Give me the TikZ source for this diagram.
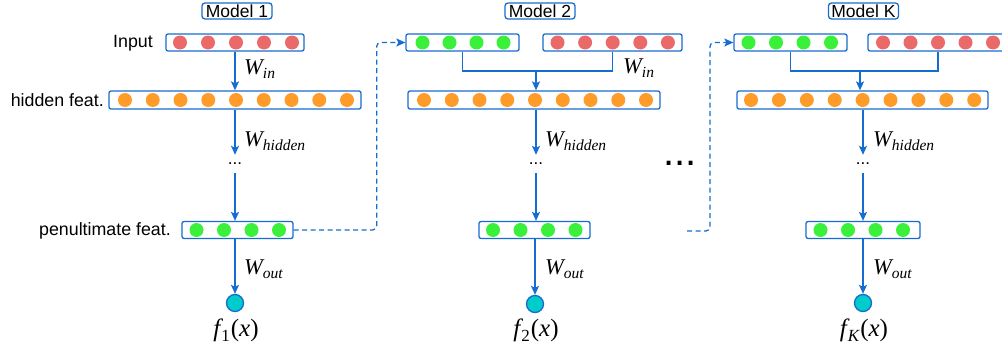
\documentclass[tikz,border=0pt]{standalone}
\usepackage{fontspec}
\setmainfont{Liberation Sans}
\newfontfamily\tms{Liberation Serif}
\usetikzlibrary{arrows.meta}
\definecolor{lblue}{RGB}{22,108,208}
\definecolor{ored}{RGB}{234,106,106}
\definecolor{oorange}{RGB}{255,155,40}
\definecolor{ogreen}{RGB}{58,240,58}
\definecolor{ocyan}{RGB}{0,204,204}
\newcommand\wsub[2]{#1\raisebox{-4.5pt}{\fontsize{15.5}{15.5}\selectfont #2}}
\newcommand\fsub[1]{{\itshape f}\kern1pt\raisebox{-5pt}{\fontsize{17}{17}\selectfont #1}\kern1pt({\itshape x})}
\tikzset{
  box/.style={draw=lblue, line width=1.3pt, rounded corners=2pt, minimum height=17pt, inner sep=0pt},
  titlebox/.style={draw=lblue, line width=1.3pt, rounded corners=3pt, minimum height=16pt, minimum width=70pt, inner sep=0pt, font=\fontsize{17.5}{17.5}\selectfont},
  lbl/.style={font=\fontsize{17.8}{17.8}\selectfont, anchor=east, inner sep=0pt},
  arr/.style={draw=lblue, line width=1.3pt, -{Stealth[length=9pt,width=8pt,inset=2pt]}},
  link/.style={draw=lblue, line width=1.3pt},
  dlink/.style={draw=lblue, line width=1.3pt, dash pattern=on 5pt off 3.5pt, rounded corners=4pt, -{Stealth[length=9pt,width=8pt,inset=2pt]}},
  wlbl/.style={anchor=west, inner sep=0pt, font=\fontsize{22.5}{22.5}\selectfont\tms\itshape},
  outn/.style={circle, draw=lblue, fill=ocyan, line width=1.3pt, minimum size=17pt, inner sep=0pt},
  flbl/.style={inner sep=0pt, font=\fontsize{25}{25}\selectfont\tms},
  dotsn/.style={minimum height=18pt, inner sep=0pt, font=\fontsize{17}{17}\selectfont},
  nd/.style={radius=7pt}
}
\begin{document}
\begin{tikzpicture}[x=1pt,y=-1pt]
\path[use as bounding box, clip] (0,0) rectangle (1002,351);
% ---------- Model 1 ----------
\node[titlebox] (m1) at (237,11) {Model 1};
\node[box, minimum width=138pt] (in1) at (235,42.5) {};
\foreach \i in {0,...,4} \fill[ored] (180+28*\i,42.5) circle[nd];
\node[box, minimum width=252pt, minimum height=18pt] (h1) at (235,100) {};
\foreach \i in {0,...,8} \fill[oorange] (125+27.75*\i,100) circle[nd];
\node[dotsn] (d1) at (235,164) {...};
\node[box, minimum width=111pt] (p1) at (237.5,230) {};
\foreach \i in {0,...,3} \fill[ogreen] (196.5+27.5*\i,230) circle[nd];
\node[outn] (o1) at (235,303) {};
\node[flbl] (f1) at (236,330) {\fsub{1}};
\node[lbl] (lin) at (153,43) {Input};
\node[lbl] (lhid) at (104,100) {hidden feat.};
\node[lbl] (lpen) at (171,231) {penultimate feat.};
\draw[arr] (in1.south) -- (h1.north);
\draw[arr] (h1.south) -- (d1.north);
\draw[arr] (d1.south) -- (d1.south |- p1.north);
\draw[arr] (o1 |- p1.south) -- (o1.north);
\node[wlbl] (w1a) at (244,69) {\wsub{W}{in}};
\node[wlbl] (w1b) at (244,141) {\wsub{W}{hidden}};
\node[wlbl] (w1c) at (244,269) {\wsub{W}{out}};
% ---------- Model 2 ----------
\node[titlebox] (m2) at (540,11) {Model 2};
\node[box, minimum width=113pt] (g2) at (462.5,42.5) {};
\foreach \i in {0,...,3} \fill[ogreen] (422.5+27*\i,42.5) circle[nd];
\node[box, minimum width=139pt] (r2) at (612.5,42.5) {};
\foreach \i in {0,...,4} \fill[ored] (557.5+27.6*\i,42.5) circle[nd];
\node[box, minimum width=252pt, minimum height=18pt] (h2) at (534,100) {};
\foreach \i in {0,...,8} \fill[oorange] (424+27.75*\i,100) circle[nd];
\coordinate (j2) at (536,71);
\draw[link] (g2.south) |- (j2) -| (r2.south);
\draw[arr] (j2) -- (j2 |- h2.north);
\node[wlbl] (w2a) at (623,68) {\wsub{W}{in}};
\node[dotsn] (d2) at (536,164) {...};
\draw[arr] (d2.north |- h2.south) -- (d2.north);
\node[box, minimum width=111pt] (p2) at (534.5,230) {};
\foreach \i in {0,...,3} \fill[ogreen] (493+27.5*\i,230) circle[nd];
\draw[arr] (d2.south) -- (d2.south |- p2.north);
\node[outn] (o2) at (535,304) {};
\draw[arr] (o2 |- p2.south) -- (o2.north);
\node[flbl] (f2) at (536,330) {\fsub{2}};
\node[wlbl] (w2b) at (545,141) {\wsub{W}{hidden}};
\node[wlbl] (w2c) at (545,269) {\wsub{W}{out}};
\draw[dlink] (p1.east) -- ++(83,0) |- (g2.west);
% ---------- ellipsis ----------
\node[inner sep=0pt, font=\fontsize{40}{40}\selectfont] (ell) at (680,163) {...};
\coordinate (s2) at (687,231);
% ---------- Model K ----------
\node[titlebox] (mK) at (863.5,11) {Model K};
\node[box, minimum width=113pt] (gK) at (790.5,42.5) {};
\foreach \i in {0,...,3} \fill[ogreen] (748.5+27.5*\i,42.5) circle[nd];
\node[box, minimum width=140pt] (rK) at (938,42.5) {};
\foreach \i in {0,...,4} \fill[ored] (883+27.5*\i,42.5) circle[nd];
\node[box, minimum width=251pt, minimum height=18pt] (hK) at (862.5,100) {};
\foreach \i in {0,...,8} \fill[oorange] (751+27.9*\i,100) circle[nd];
\coordinate (jK) at (860,71);
\draw[link] (gK.south) |- (jK) -| (rK.south);
\draw[arr] (jK) -- (jK |- hK.north);
\node[dotsn] (dK) at (863,164) {...};
\draw[arr] (dK.north |- hK.south) -- (dK.north);
\node[box, minimum width=114pt] (pK) at (863,230) {};
\foreach \i in {0,...,3} \fill[ogreen] (820.5+27.5*\i,230) circle[nd];
\draw[arr] (dK.south) -- (dK.south |- pK.north);
\node[outn] (oK) at (863,303) {};
\draw[arr] (oK |- pK.south) -- (oK.north);
\node[flbl] (fK) at (864,330) {\fsub{\itshape K}};
\node[wlbl] (wKb) at (873,141) {\wsub{W}{hidden}};
\node[wlbl] (wKc) at (873,269) {\wsub{W}{out}};
\draw[dlink] (s2) -- ++(23,0) |- (gK.west);
\end{tikzpicture}
\end{document}
